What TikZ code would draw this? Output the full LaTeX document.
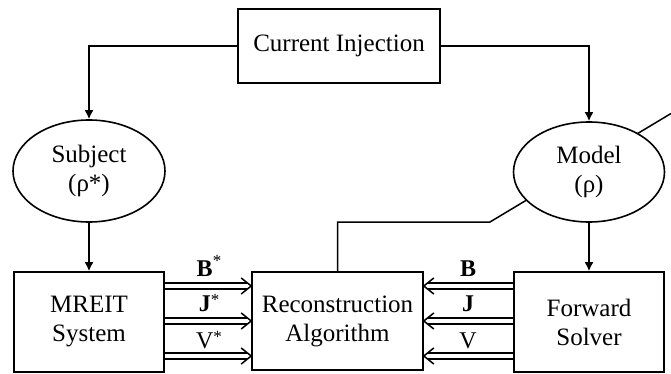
\documentclass[tikz,border=0pt]{standalone}
\usepackage{fontspec}
\setmainfont{Liberation Serif}
\usetikzlibrary{shapes.geometric,arrows.meta,backgrounds,calc}
\newcommand{\astsup}[1]{\raisebox{#1}{\fontsize{17}{17}\selectfont *}}
\newcommand{\dblarrow}[3]{%
  \draw[dbl] (#1) -- ($(#2)+(-4*#3,0)$);
  \draw[plain,line join=miter] ($(#2)+(-10*#3,-8)$) -- (#2) -- ($(#2)+(-10*#3,8)$);
}
\begin{document}
\begin{tikzpicture}[x=1pt,y=-1pt,
  every node/.style={font=\fontsize{25}{29}\selectfont},
  boxnode/.style={draw,line width=1.6pt,rectangle,inner sep=0pt,fill=white,align=center},
  ellnode/.style={draw,line width=1.6pt,ellipse,inner sep=0pt,fill=white,align=center},
  conn/.style={line width=1.6pt,-{Latex[length=9pt,width=9pt]}},
  plain/.style={line width=1.5pt},
  dbl/.style={line width=1.5pt,double distance=4.5pt},
  lbl/.style={inner sep=0pt,anchor=base,font=\fontsize{24}{28}\selectfont}]
\useasboundingbox (0,0) rectangle (671,374);
\node[boxnode,minimum width=202pt,minimum height=74pt] (ci) at (339,46) {Current Injection};
\node[ellnode,minimum width=152pt,minimum height=102pt] (subj) at (89,171) {Subject\\(ρ*)};
\node[ellnode,minimum width=151pt,minimum height=100pt] (model) at (589,172) {Model\\(ρ)};
\node[boxnode,minimum width=150pt,minimum height=100pt] (mreit) at (89,322) {MREIT\\System};
\node[boxnode,minimum width=171pt,minimum height=98pt] (rec) at (337.5,321) {Reconstruction\\Algorithm};
\node[boxnode,minimum width=150pt,minimum height=100pt] (fs) at (589,322) {Forward\\Solver};
\coordinate (bend) at (490,222);
\coordinate (out) at (671,113.5);
\begin{scope}[on background layer]
\draw[plain] (rec.north) |- (bend) -- (out);
\end{scope}
\draw[conn] (ci.west) -| (subj.north);
\draw[conn] (ci.east) -| (model.north);
\draw[conn] (subj.south) -- (mreit.north);
\draw[conn] (model.south) -- (fs.north);
\foreach \yy/\k in {286/1,321/2,356/3}{
  \coordinate (ls\k) at (mreit.east |- 0,\yy);
  \coordinate (la\k) at (rec.west |- 0,\yy);
  \coordinate (rs\k) at (fs.west |- 0,\yy);
  \coordinate (ra\k) at (rec.east |- 0,\yy);
  \dblarrow{ls\k}{la\k}{1}
  \dblarrow{rs\k}{ra\k}{-1}
}
\node[lbl] (lb) at (209,276) {\textbf{B}\astsup{10pt}};
\node[lbl] (lj) at (209,311) {\textbf{J}\astsup{6pt}};
\node[lbl] (lv) at (209,348) {V\astsup{6pt}};
\node[lbl] (rb) at (468,276) {\textbf{B}};
\node[lbl] (rj) at (468,311) {\textbf{J}};
\node[lbl] (rv) at (468,348) {V};
\end{tikzpicture}
\end{document}
